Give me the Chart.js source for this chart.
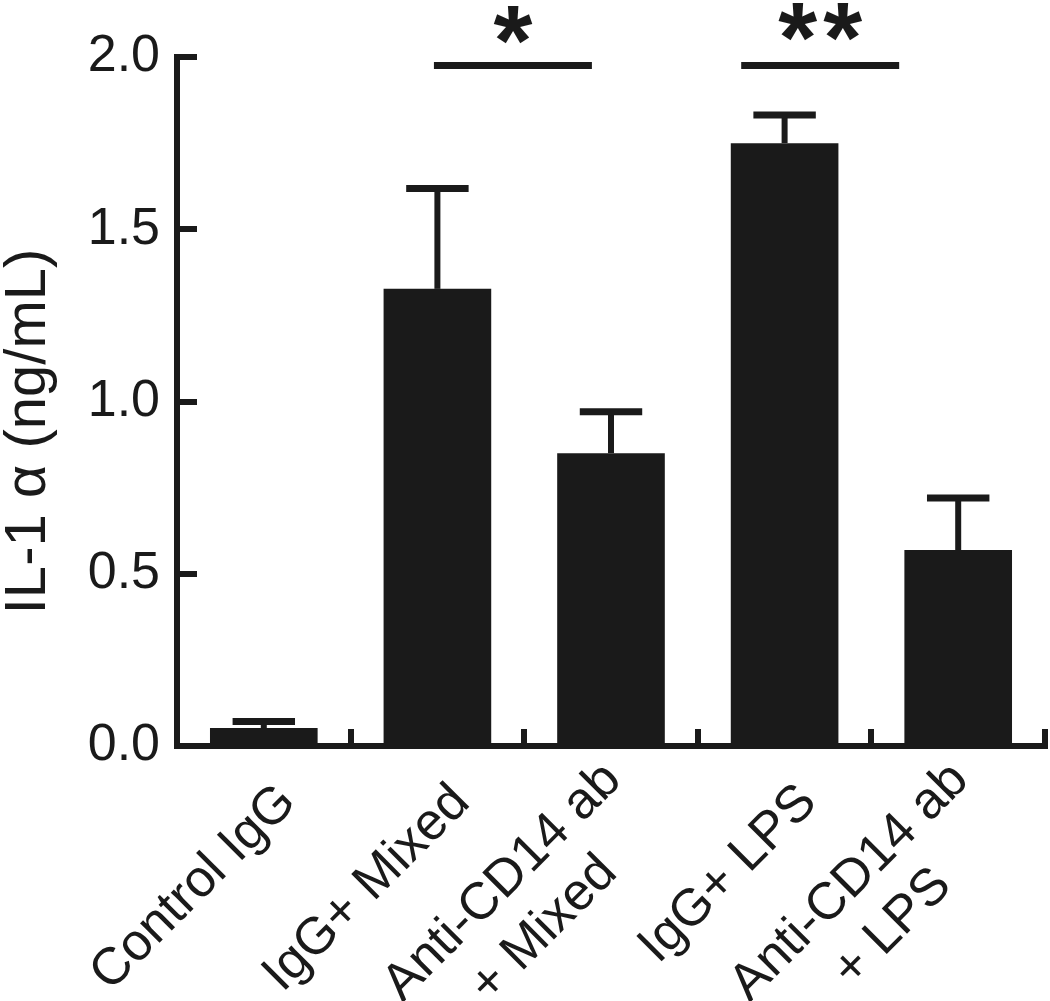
<!DOCTYPE html>
<html><head><meta charset="utf-8">
<script src="https://cdn.jsdelivr.net/npm/chart.js@4"></script>
<style>html,body{margin:0;padding:0;background:#fff;} canvas{display:block;}</style>
</head><body>
<canvas id="c" width="1050" height="1001"></canvas>
<script>
// Category labels (blank middle/leading lines keep each label block centred on its tick)
const categories = [
  ['', 'Control IgG'],
  ['', 'IgG+ Mixed'],
  ['Anti-CD14 ab', '', '+ Mixed    \u2009'],
  ['', 'IgG+ LPS'],
  ['Anti-CD14 ab', '', '+ LPS      ']
];
const means = [0.052, 1.327, 0.850, 1.750, 0.569];
const errorTops = [0.071, 1.618, 0.970, 1.832, 0.720];
const yTickValues = [0, 0.5, 1.0, 1.5, 2.0];
const sigStart = [0.98, 2.75];
const sigEnd = [1.89, 3.66];
const sigLevel = [1.975, 1.975];
const sigMarks = ['*', '**'];
const sigMarkLevel = [2.093, 2.102];
const yTitle = 'IL-1 α (ng/mL)   \u2009';

const ink = '#1a1a1a';
const fam = '"Liberation Sans", Arial, Helvetica, sans-serif';
Chart.defaults.font.family = fam;
Chart.defaults.color = ink;

const annotate = {
  id: 'annotate',
  afterDatasetsDraw(chart) {
    const ctx = chart.ctx, xs = chart.scales.x, ys = chart.scales.y;
    const meta = chart.getDatasetMeta(0);
    ctx.save();
    ctx.strokeStyle = ink; ctx.fillStyle = ink; ctx.lineCap = 'butt';
    meta.data.forEach((bar, i) => {
      const cx = bar.x;
      const top = ys.getPixelForValue(errorTops[i]);
      const base = ys.getPixelForValue(means[i]);
      const half = bar.width * 0.29;
      ctx.lineWidth = 6;
      ctx.beginPath(); ctx.moveTo(cx, base); ctx.lineTo(cx, top); ctx.stroke();
      ctx.lineWidth = 7;
      ctx.beginPath(); ctx.moveTo(cx - half, top); ctx.lineTo(cx + half, top); ctx.stroke();
    });
    ctx.font = 'bold 100px ' + fam;
    const spacing = 6;
    if ('letterSpacing' in ctx) ctx.letterSpacing = spacing + 'px';
    ctx.textAlign = 'center'; ctx.textBaseline = 'alphabetic';
    sigStart.forEach((s, i) => {
      const x1 = xs.getPixelForValue(s), x2 = xs.getPixelForValue(sigEnd[i]);
      const yy = ys.getPixelForValue(sigLevel[i]);
      ctx.lineWidth = 7;
      ctx.beginPath(); ctx.moveTo(x1, yy); ctx.lineTo(x2, yy); ctx.stroke();
      const m = ctx.measureText(sigMarks[i]);
      const yc = ys.getPixelForValue(sigMarkLevel[i]);
      const baseY = yc + (m.actualBoundingBoxAscent - m.actualBoundingBoxDescent) / 2;
      ctx.fillText(sigMarks[i], (x1 + x2) / 2 + spacing / 2, baseY);
    });
    ctx.restore();
  }
};

new Chart(document.getElementById('c'), {
  type: 'bar',
  data: {
    labels: categories,
    datasets: [{ data: means, backgroundColor: ink, borderWidth: 0, barPercentage: 0.62, categoryPercentage: 1.0 }]
  },
  options: {
    responsive: false, animation: false, devicePixelRatio: 1,
    layout: { padding: { top: 57, right: 5, left: 0, bottom: 0 } },
    plugins: { legend: { display: false }, tooltip: { enabled: false } },
    scales: {
      x: {
        offset: true,
        grid: { offset: true, drawOnChartArea: false, drawTicks: true, tickLength: -17, tickWidth: 6, tickColor: ink, lineWidth: 6, color: ink },
        border: { display: true, color: ink, width: 6 },
        ticks: { autoSkip: false, maxRotation: 45, minRotation: 45, font: { size: 52, lineHeight: 0.6 }, color: ink, padding: 32, labelOffset: 2 },
        afterFit: s => { s.height = 1001 - 746; s.paddingLeft = 0; s.paddingRight = 0; }
      },
      y: {
        min: 0, max: 2,
        afterBuildTicks: s => { s.ticks = yTickValues.map(v => ({ value: v })); },
        grid: { drawOnChartArea: false, drawTicks: true, tickLength: -20, tickWidth: 6, tickColor: ink, lineWidth: 6, color: ink },
        border: { display: true, color: ink, width: 6 },
        ticks: { callback: v => Number(v).toFixed(1), font: { size: 52 }, color: ink, padding: 37 },
        title: { display: true, text: yTitle, font: { size: 58 }, color: ink, padding: { top: -6, bottom: 0 } },
        afterFit: s => { s.width = 177; s.paddingTop = 0; s.paddingBottom = 0; }
      }
    }
  },
  plugins: [annotate]
});
</script>
</body></html>
